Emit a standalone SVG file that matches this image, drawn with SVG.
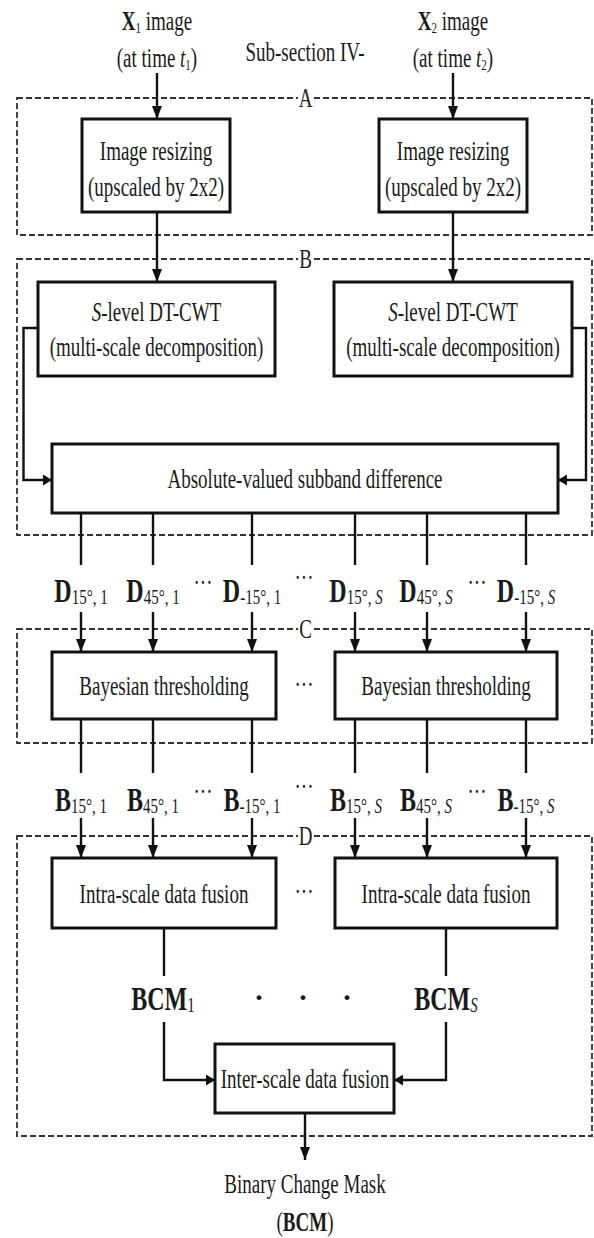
<svg xmlns="http://www.w3.org/2000/svg" width="594" height="1238" viewBox="0 0 594 1238">
<style>
.t{font-family:"Liberation Serif","Times New Roman",serif;font-size:19px;fill:#1a1a1a;text-anchor:middle}
.lbl{font-family:"Liberation Serif","Times New Roman",serif;font-size:19px;fill:#222;text-anchor:middle}
.lab{font-family:"Liberation Serif","Times New Roman",serif;font-size:24px;fill:#1a1a1a;text-anchor:middle}
.bd{font-weight:bold}
.sub{font-size:15px;font-weight:normal}
.it{font-style:italic}
.dash{fill:none;stroke:#333;stroke-width:1.8;stroke-dasharray:6 3}
.box{fill:#fff;stroke:#111;stroke-width:3}
.conn path{fill:none;stroke:#111;stroke-width:2.4}
.dots{font-family:"Liberation Serif","Times New Roman",serif;font-size:19px;fill:#1a1a1a;text-anchor:middle}
.bigdot{font-family:"Liberation Serif","Times New Roman",serif;font-size:30px;font-weight:bold;fill:#1a1a1a;text-anchor:middle}
</style>
<defs>
<marker id="av" viewBox="0 0 13 10" refX="13" refY="5" markerWidth="13" markerHeight="10" orient="auto" markerUnits="userSpaceOnUse"><path d="M0,0 L13,5 L0,10 z" fill="#111"/></marker>
<marker id="ah" viewBox="0 0 9 11" refX="9" refY="5.5" markerWidth="9" markerHeight="11" orient="auto" markerUnits="userSpaceOnUse"><path d="M0,0 L9,5.5 L0,11 z" fill="#111"/></marker>
</defs>
<rect width="594" height="1238" fill="#fff"/>

<g id="section-A">
<rect class="dash" x="17" y="98" width="575" height="137"/>
<rect x="298" y="88" width="15" height="20" fill="#fff"/>
<text class="lbl" transform="matrix(1 0 0 1.42 305.5 107)">A</text>
</g>
<g id="section-B">
<rect class="dash" x="17" y="259" width="575" height="276"/>
<rect x="298" y="249" width="15" height="20" fill="#fff"/>
<text class="lbl" transform="matrix(1 0 0 1.42 305.5 268)">B</text>
</g>
<g id="section-C">
<rect class="dash" x="17" y="629" width="575" height="114"/>
<rect x="298" y="619" width="15" height="20" fill="#fff"/>
<text class="lbl" transform="matrix(1 0 0 1.42 305.5 638)">C</text>
</g>
<g id="section-D">
<rect class="dash" x="17" y="836" width="575" height="300"/>
<rect x="298" y="826" width="15" height="20" fill="#fff"/>
<text class="lbl" transform="matrix(1 0 0 1.42 305.5 845)">D</text>
</g>

<g id="connectors" class="conn">
<path d="M157,73 V119" marker-end="url(#av)"/>
<path d="M453,73 V119" marker-end="url(#av)"/>
<path d="M157,212 V282" marker-end="url(#av)"/>
<path d="M453,212 V282" marker-end="url(#av)"/>
<path d="M38,328 H23.5 V480 H52" marker-end="url(#ah)"/>
<path d="M572,328 H586 V480 H558" marker-end="url(#ah)"/>
<path d="M81,513 V565"/><path d="M153,513 V565"/><path d="M252,513 V565"/>
<path d="M355,513 V565"/><path d="M427,513 V565"/><path d="M526,513 V565"/>
<path d="M81,612 V652" marker-end="url(#av)"/><path d="M153,612 V652" marker-end="url(#av)"/><path d="M252,612 V652" marker-end="url(#av)"/>
<path d="M355,612 V652" marker-end="url(#av)"/><path d="M427,612 V652" marker-end="url(#av)"/><path d="M526,612 V652" marker-end="url(#av)"/>
<path d="M81,719 V773"/><path d="M153,719 V773"/><path d="M252,719 V773"/>
<path d="M355,719 V773"/><path d="M427,719 V773"/><path d="M526,719 V773"/>
<path d="M81,818 V858" marker-end="url(#av)"/><path d="M153,818 V858" marker-end="url(#av)"/><path d="M252,818 V858" marker-end="url(#av)"/>
<path d="M355,818 V858" marker-end="url(#av)"/><path d="M427,818 V858" marker-end="url(#av)"/><path d="M526,818 V858" marker-end="url(#av)"/>
<path d="M164,928 V976"/>
<path d="M446,928 V976"/>
<path d="M164,1022 V1080 H215" marker-end="url(#ah)"/>
<path d="M446,1022 V1080 H394" marker-end="url(#ah)"/>
<path d="M305,1113 V1160" marker-end="url(#av)"/>
</g>

<g id="input-x1">
<text class="t" transform="matrix(1 0 0 1.42 157 30)"><tspan class="bd">X</tspan><tspan font-size="11" dy="2">1</tspan><tspan dy="-2"> image</tspan></text>
<text class="t" transform="matrix(1 0 0 1.42 157 67)">(at time <tspan class="it">t</tspan><tspan font-size="11" dy="2">1</tspan><tspan dy="-2">)</tspan></text>
</g>
<g id="input-x2">
<text class="t" transform="matrix(1 0 0 1.42 453 30)"><tspan class="bd">X</tspan><tspan font-size="11" dy="2">2</tspan><tspan dy="-2"> image</tspan></text>
<text class="t" transform="matrix(1 0 0 1.42 453 67)">(at time <tspan class="it">t</tspan><tspan font-size="11" dy="2">2</tspan><tspan dy="-2">)</tspan></text>
</g>
<g id="subsection-label">
<text class="t" transform="matrix(1 0 0 1.42 305 61)">Sub-section IV-</text>
</g>

<g id="resize-1">
<rect class="box" x="82" y="119" width="148" height="93"/>
<text class="t" transform="matrix(1 0 0 1.42 156 160)">Image resizing</text>
<text class="t" transform="matrix(1 0 0 1.42 156 196)">(upscaled by 2x2)</text>
</g>
<g id="resize-2">
<rect class="box" x="379" y="119" width="148" height="93"/>
<text class="t" transform="matrix(1 0 0 1.42 453 160)">Image resizing</text>
<text class="t" transform="matrix(1 0 0 1.42 453 196)">(upscaled by 2x2)</text>
</g>

<g id="dtcwt-1">
<rect class="box" x="38" y="282" width="237" height="94"/>
<text class="t" transform="matrix(1 0 0 1.42 156.5 321)"><tspan class="it">S</tspan>-level DT-CWT</text>
<text class="t" transform="matrix(1 0 0 1.42 156.5 356)">(multi-scale decomposition)</text>
</g>
<g id="dtcwt-2">
<rect class="box" x="334" y="282" width="238" height="94"/>
<text class="t" transform="matrix(1 0 0 1.42 453 321)"><tspan class="it">S</tspan>-level DT-CWT</text>
<text class="t" transform="matrix(1 0 0 1.42 453 356)">(multi-scale decomposition)</text>
</g>

<g id="abs-diff">
<rect class="box" x="52" y="444" width="506" height="69"/>
<text class="t" transform="matrix(1 0 0 1.42 305 488)">Absolute-valued subband difference</text>
</g>

<g id="d-labels">
<text class="lab" transform="matrix(1 0 0 1.42 81 602)"><tspan class="bd">D</tspan><tspan class="sub" dy="1.5">15°, 1</tspan></text>
<text class="lab" transform="matrix(1 0 0 1.42 153 602)"><tspan class="bd">D</tspan><tspan class="sub" dy="1.5">45°, 1</tspan></text>
<text class="dots" transform="matrix(1 0 0 1.42 203 592)">···</text>
<text class="lab" transform="matrix(1 0 0 1.42 252 602)"><tspan class="bd">D</tspan><tspan class="sub" dy="1.5">-15°, 1</tspan></text>
<text class="dots" transform="matrix(1 0 0 1.42 304 587)">···</text>
<text class="lab" transform="matrix(1 0 0 1.42 356 602)"><tspan class="bd">D</tspan><tspan class="sub" dy="1.5">15°, <tspan class="it">S</tspan></tspan></text>
<text class="lab" transform="matrix(1 0 0 1.42 426 602)"><tspan class="bd">D</tspan><tspan class="sub" dy="1.5">45°, <tspan class="it">S</tspan></tspan></text>
<text class="dots" transform="matrix(1 0 0 1.42 477 592)">···</text>
<text class="lab" transform="matrix(1 0 0 1.42 526 602)"><tspan class="bd">D</tspan><tspan class="sub" dy="1.5">-15°, <tspan class="it">S</tspan></tspan></text>
</g>

<g id="bayes-1">
<rect class="box" x="52" y="652" width="224" height="67"/>
<text class="t" transform="matrix(1 0 0 1.42 164 695)">Bayesian thresholding</text>
</g>
<text class="dots" transform="matrix(1 0 0 1.42 304 694)">···</text>
<g id="bayes-s">
<rect class="box" x="335" y="652" width="222" height="67"/>
<text class="t" transform="matrix(1 0 0 1.42 446 695)">Bayesian thresholding</text>
</g>

<g id="b-labels">
<text class="lab" transform="matrix(1 0 0 1.42 81 811)"><tspan class="bd">B</tspan><tspan class="sub" dy="1.5">15°, 1</tspan></text>
<text class="lab" transform="matrix(1 0 0 1.42 153 811)"><tspan class="bd">B</tspan><tspan class="sub" dy="1.5">45°, 1</tspan></text>
<text class="dots" transform="matrix(1 0 0 1.42 203 801)">···</text>
<text class="lab" transform="matrix(1 0 0 1.42 252 811)"><tspan class="bd">B</tspan><tspan class="sub" dy="1.5">-15°, 1</tspan></text>
<text class="dots" transform="matrix(1 0 0 1.42 304 796)">···</text>
<text class="lab" transform="matrix(1 0 0 1.42 356 811)"><tspan class="bd">B</tspan><tspan class="sub" dy="1.5">15°, <tspan class="it">S</tspan></tspan></text>
<text class="lab" transform="matrix(1 0 0 1.42 426 811)"><tspan class="bd">B</tspan><tspan class="sub" dy="1.5">45°, <tspan class="it">S</tspan></tspan></text>
<text class="dots" transform="matrix(1 0 0 1.42 477 801)">···</text>
<text class="lab" transform="matrix(1 0 0 1.42 526 811)"><tspan class="bd">B</tspan><tspan class="sub" dy="1.5">-15°, <tspan class="it">S</tspan></tspan></text>
</g>

<g id="intra-1">
<rect class="box" x="52" y="858" width="224" height="70"/>
<text class="t" transform="matrix(1 0 0 1.42 164 903)">Intra-scale data fusion</text>
</g>
<text class="dots" transform="matrix(1 0 0 1.42 304 901)">···</text>
<g id="intra-s">
<rect class="box" x="335" y="858" width="222" height="70"/>
<text class="t" transform="matrix(1 0 0 1.42 446 903)">Intra-scale data fusion</text>
</g>

<g id="bcm-1">
<text class="lab" transform="matrix(1 0 0 1.42 163 1010)"><tspan class="bd">BCM</tspan><tspan class="sub" dy="1.5">1</tspan></text>
</g>
<g id="bcm-dots">
<text class="bigdot" x="259" y="1007">·</text>
<text class="bigdot" x="303" y="1007">·</text>
<text class="bigdot" x="347" y="1007">·</text>
</g>
<g id="bcm-s">
<text class="lab" transform="matrix(1 0 0 1.42 446 1010)"><tspan class="bd">BCM</tspan><tspan class="sub it" dy="1.5">S</tspan></text>
</g>

<g id="inter">
<rect class="box" x="215" y="1044" width="179" height="69"/>
<text class="t" transform="matrix(1 0 0 1.42 305 1088)">Inter-scale data fusion</text>
</g>

<g id="output">
<text class="t" transform="matrix(1 0 0 1.42 305 1193)">Binary Change Mask</text>
<text class="t" font-size="23" transform="matrix(1 0 0 1.42 305 1231)">(<tspan class="bd">BCM</tspan>)</text>
</g>
</svg>
